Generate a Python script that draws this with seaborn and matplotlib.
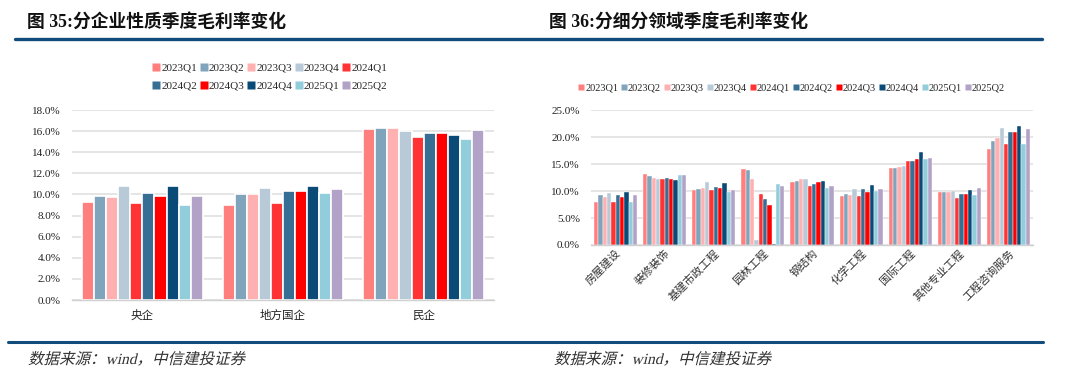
import numpy as np
import pandas as pd
import matplotlib
matplotlib.use("Agg")
import matplotlib.pyplot as plt
from matplotlib.lines import Line2D
from matplotlib.patches import PathPatch
from matplotlib.textpath import TextPath
from matplotlib.font_manager import FontProperties
from matplotlib.transforms import Affine2D
from matplotlib.ticker import FuncFormatter, FixedLocator
import seaborn as sns

# ── Data ──────────────────────────────────────────────────────────────────────
quarters = ["2023Q1", "2023Q2", "2023Q3", "2023Q4", "2024Q1",
            "2024Q2", "2024Q3", "2024Q4", "2025Q1", "2025Q2"]
colors = ["#FF7F7F", "#7FA4BC", "#FFB0B0", "#B8CAD7", "#FF3333",
          "#376E93", "#FF0000", "#0A4A76", "#92CDDC", "#B3A2C7"]

# 图35 分企业性质 (%)
ent_types = ["央企", "地方国企", "民企"]
ent_yangqi = [9.3, 9.9, 9.8, 10.8, 9.2, 10.1, 9.9, 10.8, 9.0, 9.9]
ent_difang = [9.0, 10.0, 10.0, 10.6, 9.2, 10.3, 10.3, 10.8, 10.1, 10.5]
ent_minqi = [16.2, 16.3, 16.3, 16.0, 15.4, 15.8, 15.8, 15.6, 15.3, 16.1]

# 图36 分细分领域 (%)
fields = ["房屋建设", "装修装饰", "基建市政工程", "园林工程", "钢结构",
          "化学工程", "国际工程", "其他专业工程", "工程咨询服务"]
f_house = [7.9, 9.3, 8.8, 9.6, 8.0, 9.3, 8.8, 9.9, 8.0, 9.3]
f_decor = [13.2, 12.8, 12.5, 12.3, 12.3, 12.5, 12.2, 12.0, 13.0, 13.0]
f_infra = [10.1, 10.3, 10.6, 11.6, 10.1, 10.7, 10.6, 11.5, 9.9, 10.1]
f_garden = [14.1, 13.9, 12.3, 0.9, 9.5, 8.6, 7.5, 0.2, 11.3, 11.0]
f_steel = [11.7, 11.9, 12.2, 12.2, 10.9, 11.3, 11.6, 11.9, 10.5, 11.0]
f_chem = [9.1, 9.4, 9.3, 10.4, 9.0, 10.3, 9.9, 11.1, 10.0, 10.4]
f_intl = [14.2, 14.2, 14.4, 14.6, 15.5, 15.5, 16.0, 17.2, 16.0, 16.2]
f_other = [9.8, 9.8, 9.8, 10.0, 8.7, 9.5, 9.5, 10.2, 9.2, 10.5]
f_consult = [17.8, 19.3, 19.9, 21.7, 18.7, 20.9, 20.9, 22.0, 18.7, 21.4]

ent_vals = [ent_yangqi, ent_difang, ent_minqi]
field_vals = [f_house, f_decor, f_infra, f_garden, f_steel,
              f_chem, f_intl, f_other, f_consult]


def to_long(cats, vals):
    rows = []
    for c, v in zip(cats, vals):
        for q, x in zip(quarters, v):
            rows.append({"cat": c, "quarter": q, "value": x})
    return pd.DataFrame(rows)


df_ent = to_long(ent_types, ent_vals)
df_field = to_long(fields, field_vals)

# ── Style ─────────────────────────────────────────────────────────────────────
sns.set_style("white")
FONTS = ["Liberation Serif", "Noto Sans CJK SC"]
plt.rcParams["font.family"] = FONTS
GRID = "#E3E3E3"
LINE_BLUE = "#124C7C"
W, H = 1080, 381

fig = plt.figure(figsize=(W / 100, H / 100), dpi=100)


def px_axes(x0, y0, x1, y1):
    return fig.add_axes([x0 / W, 1 - y1 / H, (x1 - x0) / W, (y1 - y0) / H])


def style_axes(ax, ymax, step, ncat):
    ax.set_ylim(0, ymax)
    ax.set_xlim(-0.5, ncat - 0.5)
    ax.yaxis.set_major_locator(FixedLocator(np.arange(0, ymax + 0.01, step)))
    ax.yaxis.set_major_formatter(FuncFormatter(lambda v, _: f"{v:.1f}%"))
    ax.grid(axis="y", color=GRID, linewidth=1.3)
    ax.set_axisbelow(True)
    for s in ["left", "top", "right"]:
        ax.spines[s].set_visible(False)
    ax.spines["bottom"].set_color("#D0D0D0")
    ax.spines["bottom"].set_linewidth(1.0)
    ax.tick_params(axis="y", length=0, labelsize=8, pad=8, colors="#222222")
    ax.tick_params(axis="x", length=0, labelsize=8.3, colors="#222222")
    ax.set_xticks(np.arange(-0.5, ncat, 1.0), minor=True)
    ax.tick_params(axis="x", which="minor", length=3, color="#D0D0D0")
    ax.set_xlabel("")
    ax.set_ylabel("")


def square_handles(size):
    return [Line2D([], [], marker="s", linestyle="none", markersize=size,
                   markerfacecolor=c, markeredgecolor="none") for c in colors]


# ── Left chart ────────────────────────────────────────────────────────────────
ax1 = px_axes(72, 110, 494, 300)
sns.barplot(data=df_ent, x="cat", y="value", hue="quarter", palette=colors,
            saturation=1, width=0.86, edgecolor="white", linewidth=1.2,
            legend=False, ax=ax1)
style_axes(ax1, 18, 2, len(ent_types))
ax1.tick_params(axis="x", pad=7)

# legend fills column by column: interleave so rows read Q1..Q5 / Q6..Q10
h1 = square_handles(5.5)
order = [i + 5 * r for i in range(5) for r in range(2)]
fig.legend([h1[k] for k in order], [quarters[k] for k in order], ncol=5,
           loc="center", bbox_to_anchor=(270 / W, 1 - 77 / H), frameon=False,
           fontsize=8, handlelength=0.6, handletextpad=0.15,
           columnspacing=0.3, labelspacing=0.75)

# ── Right chart ───────────────────────────────────────────────────────────────
ax2 = px_axes(591, 110, 1033, 245)
sns.barplot(data=df_field, x="cat", y="value", hue="quarter", palette=colors,
            saturation=1, width=0.88, edgecolor="white", linewidth=0.3,
            legend=False, ax=ax2)
style_axes(ax2, 25, 5, len(fields))
ax2.tick_params(axis="x", labelsize=8, pad=2, colors="#333333")
for lab in ax2.get_xticklabels():
    lab.set_rotation(45)
    lab.set_ha("right")
    lab.set_rotation_mode("anchor")

fig.legend(square_handles(4.5), quarters, ncol=10, loc="center",
           bbox_to_anchor=(792 / W, 1 - 88 / H), frameon=False,
           fontsize=7.5, handlelength=0.5, handletextpad=0.1,
           columnspacing=0.35)

# ── Titles, rules, footers ───────────────────────────────────────────────────
fig.text(27 / W, 1 - 22 / H, "图 35:分企业性质季度毛利率变化", fontsize=12.8,
         fontweight="bold", va="center", ha="left", color="#111111")
fig.text(549 / W, 1 - 22 / H, "图 36:分细分领域季度毛利率变化", fontsize=12.8,
         fontweight="bold", va="center", ha="left", color="#111111")

fig.add_artist(Line2D([15 / W, 1042 / W], [1 - 38.5 / H, 1 - 38.5 / H],
                      color=LINE_BLUE, linewidth=2.4))
fig.add_artist(Line2D([8 / W, 1043 / W], [1 - 342 / H, 1 - 342 / H],
                      color=LINE_BLUE, linewidth=2.2))

# footer in a slanted (italic-like) face: CJK fonts have no italic
foot = "数据来源：wind，中信建投证券"
foot_path = TextPath((0, 0), foot, size=15.5, prop=FontProperties(family=FONTS))
for x in (28, 554):
    tr = Affine2D().skew_deg(14, 0).translate(x, H - 364)
    fig.add_artist(PathPatch(foot_path, transform=tr, facecolor="#333333",
                             edgecolor="none"))

fig.savefig("out.png", dpi=100)
